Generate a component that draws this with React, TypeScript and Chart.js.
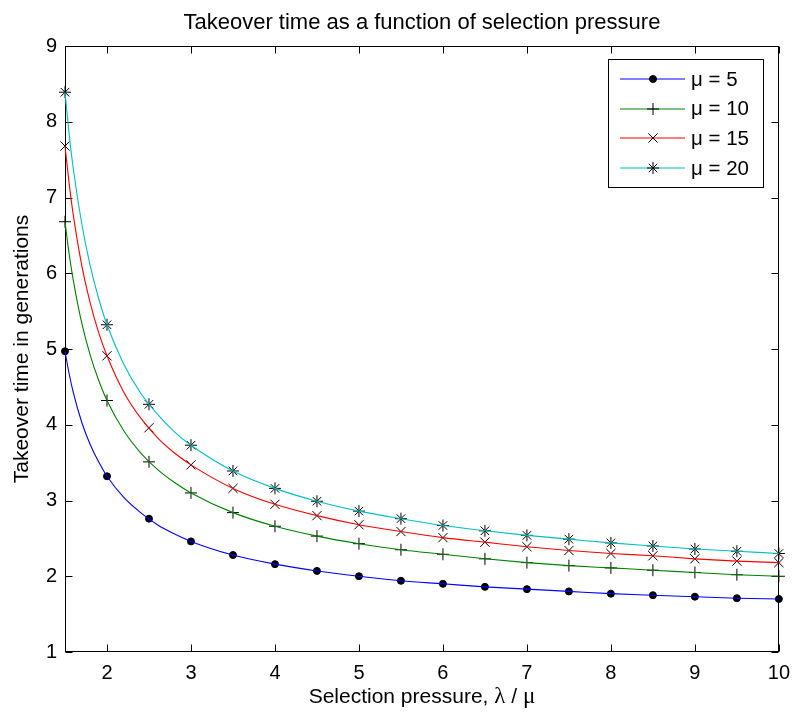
import React, { useEffect, useRef } from "react";
import { Chart, registerables } from "chart.js";
import { drawPoint } from "chart.js/helpers";

Chart.register(...registerables);

// Marker positions (every 0.5 in selection pressure)
const selectionPressure = [1.5, 2, 2.5, 3, 3.5, 4, 4.5, 5, 5.5, 6, 6.5, 7, 7.5, 8, 8.5, 9, 9.5, 10];
const mu5 = [4.97, 3.32, 2.76, 2.46, 2.28, 2.16, 2.07, 2.0, 1.94, 1.9, 1.86, 1.83, 1.8, 1.77, 1.75, 1.73, 1.71, 1.7];
const mu10 = [6.68, 4.32, 3.51, 3.1, 2.84, 2.66, 2.53, 2.43, 2.35, 2.29, 2.23, 2.18, 2.14, 2.11, 2.08, 2.05, 2.02, 2.0];
const mu15 = [7.68, 4.91, 3.96, 3.47, 3.16, 2.95, 2.8, 2.68, 2.59, 2.51, 2.45, 2.39, 2.34, 2.3, 2.27, 2.23, 2.2, 2.18];
const mu20 = [8.39, 5.32, 4.27, 3.73, 3.39, 3.16, 2.99, 2.86, 2.76, 2.67, 2.6, 2.54, 2.49, 2.44, 2.4, 2.36, 2.33, 2.3];

// Curve samples (denser where they bend sharply)
const curvePressure = [1.5, 1.55, 1.6, 1.7, 1.8, 1.9, 2, 2.2, 2.4, 2.6, 2.8, 3, 3.5, 4, 4.5, 5, 5.5, 6, 6.5, 7, 7.5, 8, 8.5, 9, 9.5, 10];
const curveMu5 = [4.97, 4.67, 4.42, 4.03, 3.74, 3.51, 3.32, 3.04, 2.84, 2.68, 2.56, 2.46, 2.28, 2.16, 2.07, 2.0, 1.94, 1.9, 1.86, 1.83, 1.8, 1.77, 1.75, 1.73, 1.71, 1.7];
const curveMu10 = [6.68, 6.25, 5.9, 5.34, 4.92, 4.59, 4.32, 3.92, 3.63, 3.41, 3.24, 3.1, 2.84, 2.66, 2.53, 2.43, 2.35, 2.29, 2.23, 2.18, 2.14, 2.11, 2.08, 2.05, 2.02, 2.0];
const curveMu15 = [7.68, 7.18, 6.76, 6.1, 5.61, 5.22, 4.91, 4.43, 4.09, 3.83, 3.63, 3.47, 3.16, 2.95, 2.8, 2.68, 2.59, 2.51, 2.45, 2.39, 2.34, 2.3, 2.27, 2.23, 2.2, 2.18];
const curveMu20 = [8.39, 7.83, 7.37, 6.65, 6.1, 5.67, 5.32, 4.8, 4.42, 4.14, 3.91, 3.73, 3.39, 3.16, 2.99, 2.86, 2.76, 2.67, 2.6, 2.54, 2.49, 2.44, 2.4, 2.36, 2.33, 2.3];

const seriesLabels = ["\u03bc = 5", "\u03bc = 10", "\u03bc = 15", "\u03bc = 20"];
const seriesColors = ["#0000ff", "#008000", "#ff0000", "#00bfbf"];
const xTickValues = [2, 3, 4, 5, 6, 7, 8, 9, 10];
const yTickValues = [1, 2, 3, 4, 5, 6, 7, 8, 9];
const titleText = "Takeover time as a function of selection pressure";
// x-axis label parts: [text, isGreek]
const xAxisTitleParts: [string, boolean][] = [
  ["Selection pressure, ", false],
  ["\u03bb", true],
  [" / ", false],
  ["\u03bc", true],
];
const yAxisTitle = "Takeover time in generations";

const FONT = '"Liberation Sans", Arial, Helvetica, sans-serif';
const GREEK_FONT = '"Liberation Serif", "DejaVu Serif", serif';

const markerStyles: any[] = [
  { pointStyle: "circle", radius: 3.5 },
  { pointStyle: "cross", radius: 6 },
  { pointStyle: "crossRot", radius: 6.5 },
  { pointStyle: "star", radius: 6 },
];

const framePlugin = {
  id: "matlabFrame",
  beforeDatasetsDraw(chart: any) {
    const { ctx, chartArea, scales } = chart;
    const { left, top, right, bottom } = chartArea;
    const x = scales.x;
    const y = scales.y;
    ctx.save();
    ctx.strokeStyle = "#000";
    ctx.lineWidth = 1;
    const l = Math.round(left) + 0.5;
    const t = Math.round(top) + 0.5;
    const r = Math.round(right) - 0.5;
    const b = Math.round(bottom) - 0.5;
    ctx.strokeRect(l, t, r - l, b - t);
    const tl = 7;
    ctx.beginPath();
    for (const v of xTickValues) {
      const px = Math.round(x.getPixelForValue(v)) + 0.5;
      ctx.moveTo(px, b);
      ctx.lineTo(px, b - tl);
      ctx.moveTo(px, t);
      ctx.lineTo(px, t + tl);
    }
    for (const v of yTickValues) {
      const py = Math.round(y.getPixelForValue(v)) + 0.5;
      ctx.moveTo(l, py);
      ctx.lineTo(l + tl, py);
      ctx.moveTo(r, py);
      ctx.lineTo(r - tl, py);
    }
    ctx.stroke();
    ctx.fillStyle = "#000";
    ctx.font = "22px " + FONT;
    ctx.textAlign = "center";
    ctx.textBaseline = "alphabetic";
    ctx.fillText(titleText, (left + right) / 2, top - 17);

    // x-axis label with serif Greek letters
    const sansFont = "21px " + FONT;
    const greekFont = "23px " + GREEK_FONT;
    let total = 0;
    const widths = xAxisTitleParts.map(([txt, greek]) => {
      ctx.font = greek ? greekFont : sansFont;
      const w = ctx.measureText(txt).width;
      total += w;
      return w;
    });
    let cx = (left + right) / 2 - total / 2;
    ctx.textAlign = "left";
    xAxisTitleParts.forEach(([txt, greek], i) => {
      ctx.font = greek ? greekFont : sansFont;
      ctx.fillText(txt, cx, bottom + 51);
      cx += widths[i];
    });
    ctx.restore();
  },
};

const legendPlugin = {
  id: "matlabLegend",
  afterDraw(chart: any) {
    const { ctx, chartArea } = chart;
    const boxRight = Math.round(chartArea.right) - 16;
    const boxLeft = boxRight - 155;
    const boxTop = Math.round(chartArea.top) + 13;
    const boxH = 128;
    ctx.save();
    ctx.fillStyle = "#fff";
    ctx.fillRect(boxLeft, boxTop, boxRight - boxLeft, boxH);
    ctx.strokeStyle = "#000";
    ctx.lineWidth = 1;
    ctx.strokeRect(boxLeft + 0.5, boxTop + 0.5, boxRight - boxLeft, boxH);
    seriesLabels.forEach((label, i) => {
      const cy = boxTop + 20 + i * 29.7;
      ctx.strokeStyle = seriesColors[i];
      ctx.lineWidth = 1.2;
      ctx.beginPath();
      ctx.moveTo(boxLeft + 12, Math.round(cy));
      ctx.lineTo(boxLeft + 77, Math.round(cy));
      ctx.stroke();
      ctx.strokeStyle = "#000";
      ctx.fillStyle = "#000";
      ctx.lineWidth = 1;
      drawPoint(ctx, { ...markerStyles[i], rotation: 0, borderWidth: 1 }, boxLeft + 45, Math.round(cy));
      ctx.fillStyle = "#000";
      ctx.font = "20.5px " + FONT;
      ctx.textAlign = "left";
      ctx.textBaseline = "middle";
      ctx.fillText(label, boxLeft + 83, cy + 1);
    });
    ctx.restore();
  },
};

export default function App() {
  const canvasRef = useRef<HTMLCanvasElement | null>(null);

  useEffect(() => {
    const canvas = canvasRef.current;
    if (!canvas) return;
    const curves = [curveMu5, curveMu10, curveMu15, curveMu20];
    const markers = [mu5, mu10, mu15, mu20];
    const lineSets = curves.map((vals, i) => ({
      label: seriesLabels[i] + " line",
      data: curvePressure.map((sp, j) => ({ x: sp, y: vals[j] })),
      borderColor: seriesColors[i],
      borderWidth: 1.1,
      fill: false,
      cubicInterpolationMode: "monotone" as const,
      pointRadius: 0,
      pointHoverRadius: 0,
      clip: false as any,
    }));
    const markerSets = markers.map((vals, i) => ({
      label: seriesLabels[i],
      data: selectionPressure.map((sp, j) => ({ x: sp, y: vals[j] })),
      showLine: false,
      borderColor: "#000",
      backgroundColor: "#000",
      pointStyle: markerStyles[i].pointStyle,
      pointRadius: markerStyles[i].radius,
      pointBorderColor: "#000",
      pointBackgroundColor: "#000",
      pointBorderWidth: 1,
      pointHoverRadius: markerStyles[i].radius,
      clip: false as any,
    }));
    const chart = new Chart(canvas, {
      type: "line",
      data: { datasets: [...lineSets, ...markerSets] as any },
      options: {
        animation: false,
        responsive: false,
        maintainAspectRatio: false,
        events: [],
        layout: { padding: { top: 46, right: 17, bottom: 0, left: 0 } },
        plugins: {
          legend: { display: false },
          title: { display: false },
          tooltip: { enabled: false },
        },
        scales: {
          x: {
            type: "linear",
            min: 1.5,
            max: 10,
            afterBuildTicks: (s: any) => {
              s.ticks = xTickValues.map((v) => ({ value: v }));
            },
            afterFit: (s: any) => {
              s.height = 63;
            },
            grid: { display: false, drawTicks: false },
            border: { display: false },
            ticks: {
              color: "#000",
              font: { size: 20, family: FONT },
              padding: 9,
              maxRotation: 0,
              autoSkip: false,
            },
            title: { display: false },
          },
          y: {
            type: "linear",
            min: 1,
            max: 9,
            afterBuildTicks: (s: any) => {
              s.ticks = yTickValues.map((v) => ({ value: v }));
            },
            afterFit: (s: any) => {
              s.width = 65;
            },
            grid: { display: false, drawTicks: false },
            border: { display: false },
            ticks: {
              color: "#000",
              font: { size: 20, family: FONT },
              padding: 8,
              autoSkip: false,
            },
            title: {
              display: true,
              text: yAxisTitle,
              color: "#000",
              font: { size: 21, family: FONT },
              padding: { top: 10, bottom: 0 },
            },
          },
        },
      },
      plugins: [framePlugin, legendPlugin],
    });
    return () => chart.destroy();
  }, []);

  return (
    <div style={{ position: "absolute", left: 0, top: 0, width: 799, height: 715, background: "#fff" }}>
      <canvas ref={canvasRef} width={799} height={715} style={{ display: "block" }} />
    </div>
  );
}
